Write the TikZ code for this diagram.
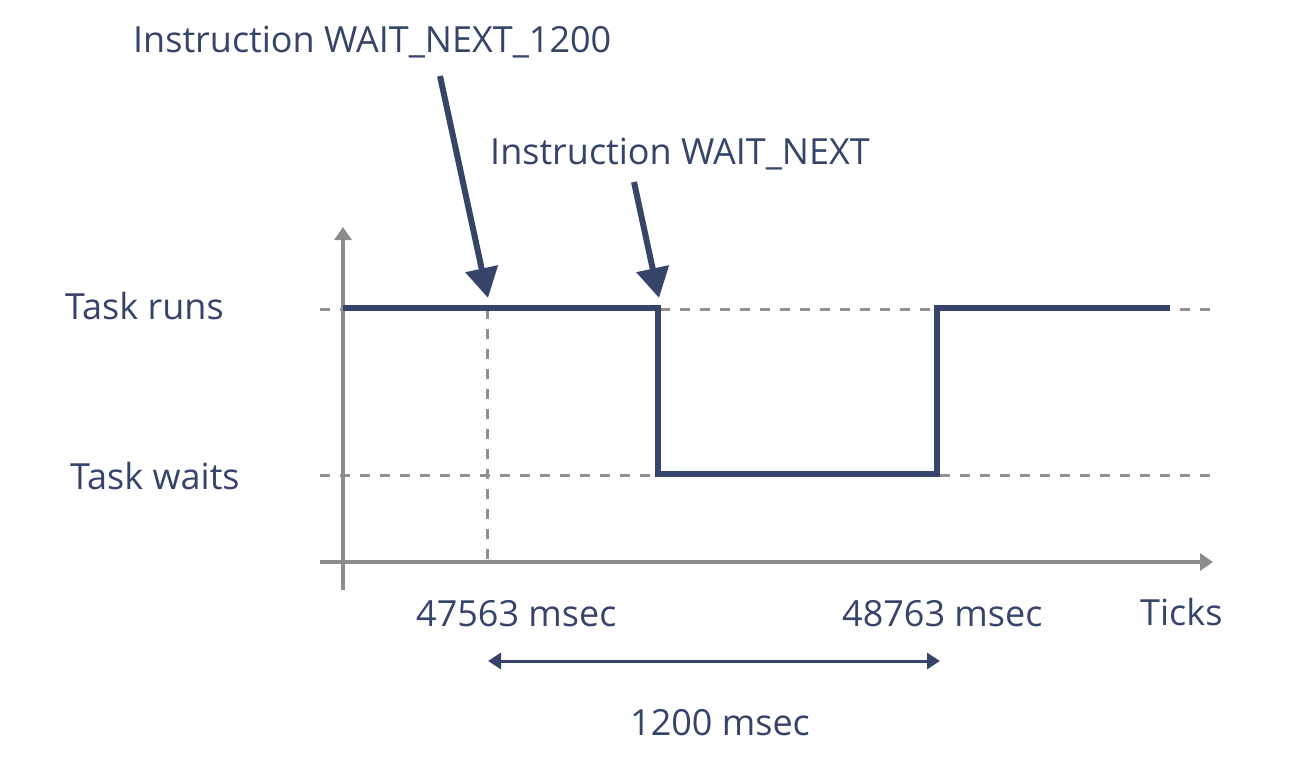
\documentclass[tikz,border=0pt]{standalone}
\usepackage{fontspec}
\setmainfont{Open Sans}
\usetikzlibrary{arrows.meta}
\definecolor{navy}{RGB}{54,68,106}
\definecolor{axisgray}{RGB}{140,140,140}
\definecolor{dashgray}{RGB}{145,145,145}
\begin{document}
\begin{tikzpicture}[x=1pt,y=-1pt,
  lbl/.style={inner sep=0pt,text=navy,font=\fontsize{36}{40}\selectfont},
  axisline/.style={draw=axisgray,line width=3.2pt,-{Triangle[length=13pt,width=17pt]}},
  guide/.style={draw=dashgray,line width=3pt,dash pattern=on 10pt off 10pt},
  signal/.style={draw=navy,line width=6pt,line join=miter},
  pointer/.style={draw=navy,line width=6pt,-{Triangle[length=30pt,width=32pt]}},
  span/.style={draw=navy,line width=3pt,{Triangle[length=13pt,width=16pt]}-{Triangle[length=13pt,width=16pt]}}]
\useasboundingbox (0,0) rectangle (1293,768);
% coordinates
\coordinate (yb) at (343,590);
\coordinate (yt) at (343,227);
\coordinate (xl) at (320,562);
\coordinate (xr) at (1213,562);
\coordinate (r1) at (320,309);
\coordinate (r2) at (1213,309);
\coordinate (w1) at (320,475);
\coordinate (w2) at (1213,475);
\coordinate (v1) at (487,309);
\coordinate (v2) at (487,562);
% guides
\draw[guide] (r1) -- (r2);
\draw[guide] (w1) -- (w2);
\draw[guide] (v1) -- (v2);
% axes
\draw[axisline] (yb) -- (yt);
\draw[axisline] (xl) -- (xr);
% signal
\coordinate (s0) at (343,308);
\coordinate (s1) at (658,308);
\coordinate (s2) at (658,474);
\coordinate (s3) at (937,474);
\coordinate (s4) at (937,308);
\coordinate (s5) at (1170,308);
\draw[signal] (s0) -- (s1) -- (s2) -- (s3) -- (s4) -- (s5);
% labels
\node[lbl,anchor=base west] (t1) at (133,53) {Instruction WAIT\_NEXT\_1200};
\node[lbl,anchor=base west] (t2) at (490,164) {Instruction WAIT\_NEXT};
\node[lbl,anchor=base west] (run) at (65,319) {Task runs};
\node[lbl,anchor=base west] (wait) at (70,489) {Task waits};
\node[lbl,anchor=base west] (m1) at (416,626) {47563 msec};
\node[lbl,anchor=base west] (m2) at (842,626) {48763 msec};
\node[lbl,anchor=base west] (ticks) at (1140,625) {Ticks};
\node[lbl,anchor=base west] (d) at (630,735) {1200 msec};
% pointers
\coordinate (p1s) at (440,76);
\coordinate (p1e) at (488,298);
\coordinate (p2s) at (634,182);
\coordinate (p2e) at (659,298);
\draw[pointer] (p1s) -- (p1e);
\draw[pointer] (p2s) -- (p2e);
% span
\coordinate (a1) at (488,661);
\coordinate (a2) at (940,661);
\draw[span] (a1) -- (a2);
\end{tikzpicture}
\end{document}
